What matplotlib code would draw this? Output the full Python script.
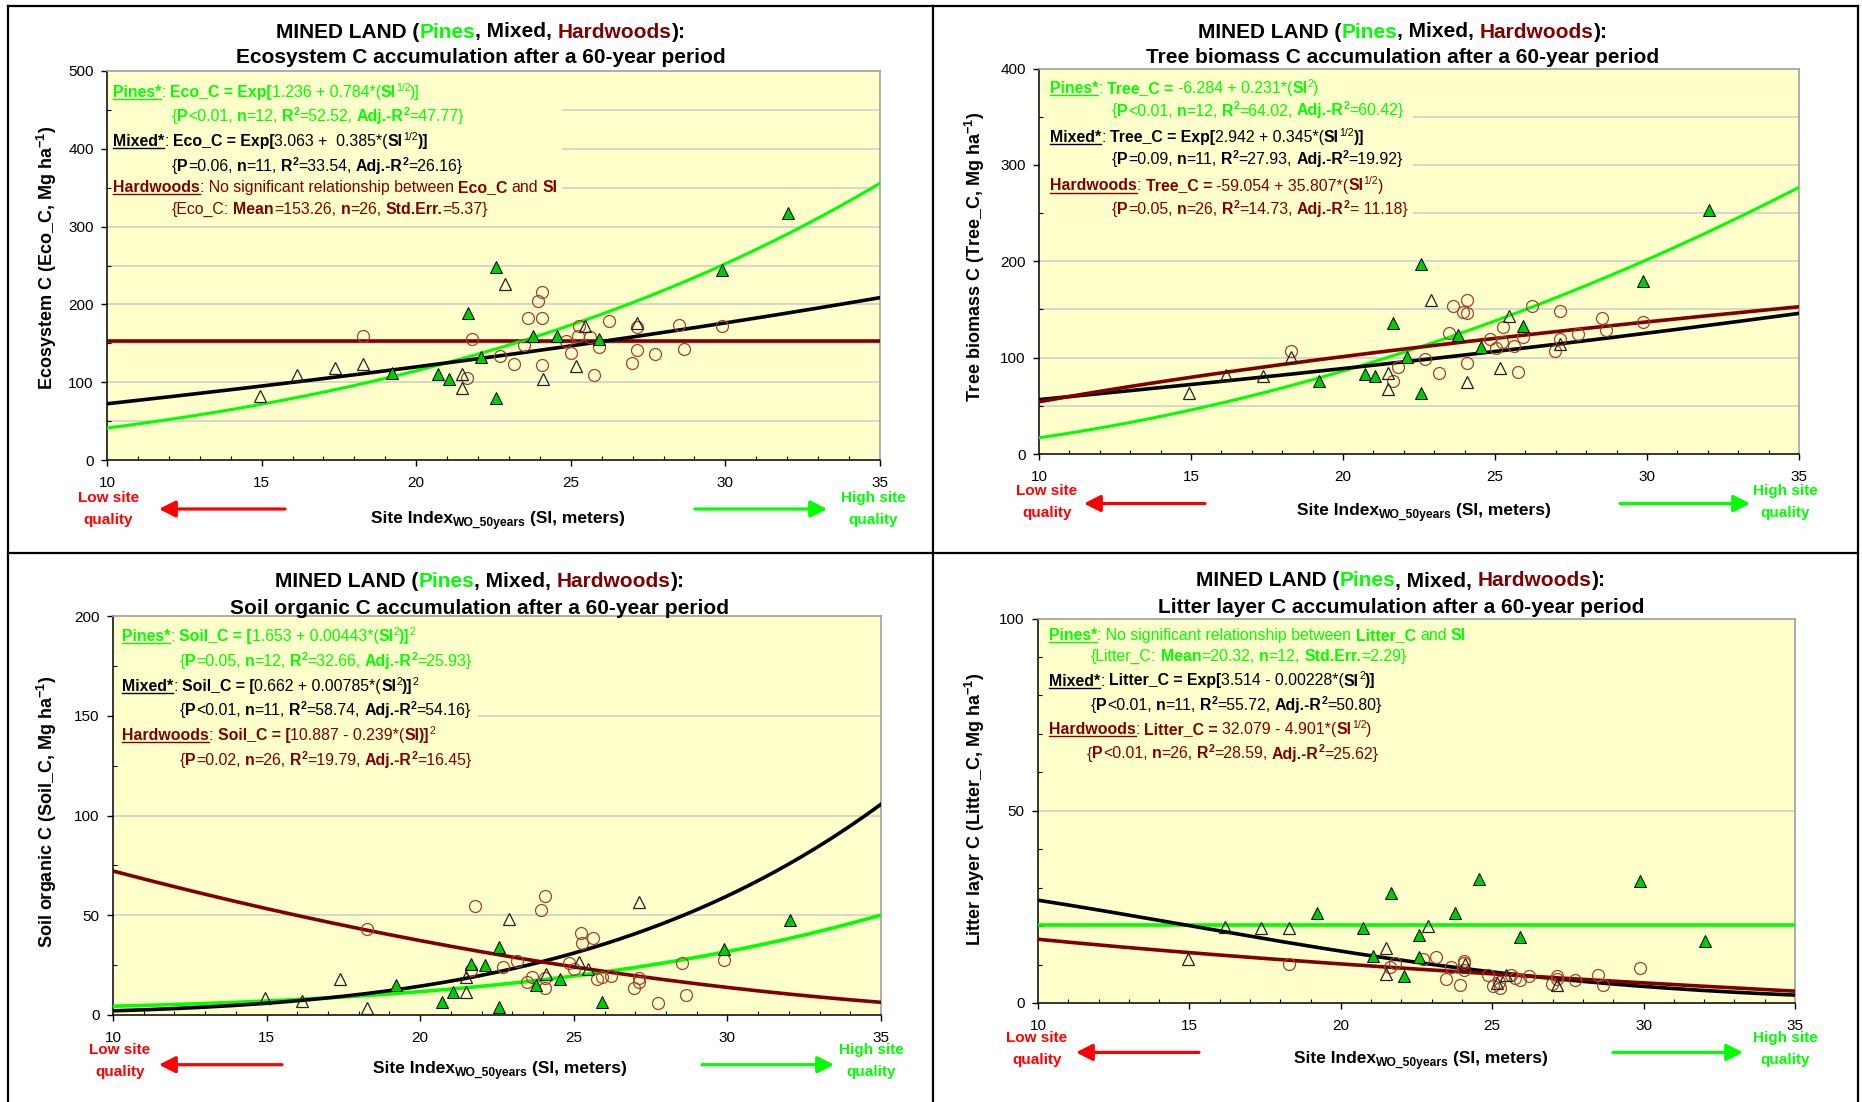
import numpy as np
import matplotlib
matplotlib.use("Agg")
import matplotlib.pyplot as plt
from matplotlib.lines import Line2D
from matplotlib.patches import Rectangle
from matplotlib.ticker import MultipleLocator

plt.rcParams['font.family'] = ['Liberation Sans', 'DejaVu Sans']
plt.rcParams['mathtext.fontset'] = 'custom'
plt.rcParams['mathtext.rm'] = 'Liberation Sans'
plt.rcParams['mathtext.bf'] = 'Liberation Sans:bold'
plt.rcParams['mathtext.it'] = 'Liberation Sans:italic'

# ---------------- data ----------------
pine_si = [19.21, 20.72, 21.06, 21.66, 22.10, 22.57, 22.57, 23.78, 24.55, 25.92, 29.88, 32.04]
pine_eco = [112, 110, 104.5, 188.5, 132.8, 247.6, 79.3, 159.8, 159.8, 156, 244, 317]
pine_tree = [75.5, 83.4, 80.7, 135.8, 101.1, 197.4, 63.7, 123, 110.8, 132.6, 180, 252.8]
pine_soil = [15.0, 6.7, 11.7, 25.6, 25.1, 34.2, 4.2, 15.0, 17.9, 6.7, 33.1, 47.6]
pine_litter = [23.3, 19.6, 12.3, 28.5, 7.0, 17.7, 11.9, 23.5, 32.2, 17.2, 31.6, 16.2]

mixed_si = [14.94, 16.16, 17.38, 18.28, 21.48, 21.48, 22.88, 24.09, 25.17, 25.46, 27.13]
mixed_eco = [82.7, 108.8, 117.8, 123.4, 110.5, 93, 226, 104, 120.8, 172.7, 175.7]
mixed_tree = [63, 81.7, 80.7, 101.1, 84.5, 67.5, 159.3, 74.5, 89.7, 143, 114]
mixed_soil = [8.7, 7.0, 18.0, 3.3, 11.7, 19.2, 48.1, 20.5, 26.7, 23.0, 56.5]
mixed_litter = [11.4, 19.8, 19.4, 19.6, 14.2, 7.5, 20.0, 10.1, 5.1, 7.3, 4.7]

hard_si = [18.28, 21.80, 21.64, 22.71, 23.16, 23.48, 23.63, 23.94, 24.07, 24.07, 24.07, 24.85, 25.02,
           25.27, 25.24, 25.61, 25.91, 25.76, 26.22, 27.13, 27.13, 26.97, 27.73, 28.51, 28.66, 29.88]
hard_eco = [159.8, 155.5, 105, 133.7, 123, 147.4, 182, 205, 216, 183, 122, 153, 137,
            172.6, 160, 158.5, 145.7, 108.8, 178.7, 170.5, 141.4, 124.7, 136, 173.5, 142.7, 172]
hard_tree = [107.3, 90.7, 75.5, 98.7, 83.8, 126, 154, 147, 146.5, 159.3, 94.9, 119.5, 110.1,
             131.6, 116, 112.5, 121.9, 85.2, 153.4, 147.9, 119.5, 107, 124.7, 141, 129.1, 136.8]
hard_soil = [42.9, 54.8, 22.6, 24.2, 27.2, 16.7, 19.2, 52.6, 59.8, 13.4, 18.4, 25.9, 23.0,
             35.9, 41.3, 38.4, 19.2, 18.0, 19.5, 16.7, 18.4, 13.4, 6.2, 26.2, 9.9, 27.6]
hard_litter = [10.1, 10.5, 9.4, 11.4, 12.0, 6.2, 9.3, 4.7, 10.3, 11.0, 8.5, 7.3, 4.5,
               3.8, 5.5, 7.3, 6.0, 6.5, 7.0, 6.2, 7.0, 4.9, 6.0, 7.3, 4.7, 9.0]

# fitted-equation coefficients printed on the chart
eco_pine_coef = [1.236, 0.784]      # Exp[a + b*SI^0.5]
eco_mixed_coef = [3.063, 0.385]     # Exp[a + b*SI^0.5]
eco_hard_mean = 153.26
tree_pine_coef = [-6.284, 0.231]    # a + b*SI^2
tree_mixed_coef = [2.942, 0.345]    # Exp[a + b*SI^0.5]
tree_hard_coef = [-59.054, 35.807]  # a + b*SI^0.5
soil_pine_coef = [1.653, 0.00443]   # [a + b*SI^2]^2
soil_mixed_coef = [0.662, 0.00785]  # [a + b*SI^2]^2
soil_hard_coef = [10.887, -0.239]   # [a + b*SI]^2
litter_pine_mean = 20.32
litter_mixed_coef = [3.514, -0.00228]  # Exp[a + b*SI^2]
litter_hard_coef = [32.079, -4.901]    # a + b*SI^0.5

x_ticks = [10, 15, 20, 25, 30, 35]

# ---------------- styling ----------------
GREEN = '#00FF00'
PINE_FILL = '#00CC00'
DRED = '#800000'
CIRC = '#A3402F'
BG = '#FFFFCC'
GRID = '#CCCCCC'
RED = '#FF0000'
EQ = 11.4

W, H = 1862, 1102
fig = plt.figure(figsize=(W / 100, H / 100), dpi=100)
fig.patch.set_facecolor('white')
renderer = fig.canvas.get_renderer()
PX = 100 / 72.0


def fx(x):
    return x / W


def fy(y):
    return 1 - y / H


_cache = {}


def ink_w(s, size, weight):
    key = (s, size, weight)
    if key not in _cache:
        t = fig.text(0, 0, s, fontsize=size, fontweight=weight)
        _cache[key] = t.get_window_extent(renderer).width
        t.remove()
    return _cache[key]


def adv(s, size, weight):
    if s == '':
        return 0.0
    return ink_w('H' + s + 'H', size, weight) - ink_w('HH', size, weight)


def rich(x0, y0, segs, size, color='black', ha='left', sup_scale=0.66, sub_scale=0.7):
    items = []
    x = 0.0
    for seg in segs:
        s, st = seg[0], seg[1]
        col = seg[2] if len(seg) > 2 else color
        sz = size
        if '^' in st:
            sz = size * sup_scale
        elif '_' in st:
            sz = size * sub_scale
        wt = 'bold' if 'b' in st else 'normal'
        core = s.strip(' ')
        lead = s[:len(s) - len(s.lstrip(' '))]
        lx = adv(lead, sz, wt)
        cw = adv(core, sz, wt)
        items.append((core, x + lx, cw, sz, wt, st, col))
        x += adv(s, sz, wt)
    if ha == 'center':
        x0 = x0 - x / 2
    for core, xx, cw, sz, wt, st, col in items:
        if not core:
            continue
        dy = 0
        if '^' in st:
            dy = -0.40 * size * PX
        elif '_' in st:
            dy = 0.18 * size * PX
        fig.text(fx(x0 + xx), fy(y0 + dy), core, fontsize=sz, fontweight=wt, color=col,
                 va='baseline', ha='left')
        if 'u' in st:
            yy = y0 + 0.13 * size * PX
            fig.add_artist(Line2D([fx(x0 + xx), fx(x0 + xx + cw)], [fy(yy), fy(yy)],
                                  color=col, lw=1.0, transform=fig.transFigure))


def stats(p, n, r2, adj):
    return [('{', ''), ('P', 'b'), (p + ', ', ''), ('n', 'b'), ('=' + n + ', ', ''),
            ('R', 'b'), ('2', '^b'), ('=' + r2 + ', ', ''), ('Adj.-R', 'b'), ('2', '^b'),
            ('=' + adj + '}', '')]


def make_axes(rect, ymax, ymaj, ymin_step, grid_vals, cover):
    l, t, r, b = rect
    ax = fig.add_axes([fx(l), fy(b), (r - l) / W, (b - t) / H])
    ax.set_facecolor(BG)
    ax.set_xlim(10, 35)
    ax.set_ylim(0, ymax)
    ax.set_xticks(x_ticks)
    ax.xaxis.set_minor_locator(MultipleLocator(1))
    ax.yaxis.set_major_locator(MultipleLocator(ymaj))
    ax.yaxis.set_minor_locator(MultipleLocator(ymin_step))
    ax.tick_params(which='major', direction='out', length=4.5, width=1, labelsize=11,
                   colors='black')
    ax.tick_params(axis='x', which='major', pad=7)
    ax.tick_params(axis='y', which='major', pad=5)
    ax.tick_params(which='minor', direction='in', length=3, width=0.8)
    for sp in ['left', 'bottom']:
        ax.spines[sp].set_color('black')
        ax.spines[sp].set_linewidth(1.1)
    for sp in ['top', 'right']:
        ax.spines[sp].set_color('#A0A0A0')
        ax.spines[sp].set_linewidth(1.2)
    for g in grid_vals:
        ax.axhline(g, color=GRID, lw=1.1, zorder=0.5)
    # text box covering the gridlines
    cx0, cy0, cx1, cy1 = cover
    dx0 = 10 + (cx0 - l) / (r - l) * 25
    dx1 = 10 + (cx1 - l) / (r - l) * 25
    dy0 = ymax * (b - cy1) / (b - t)
    dy1 = ymax * (b - cy0) / (b - t)
    ax.add_patch(Rectangle((dx0, dy0), dx1 - dx0, dy1 - dy0, facecolor=BG, edgecolor='none',
                           zorder=0.8))
    return ax


def scatter(ax, pv, mv, hv):
    ax.plot(hard_si, hv, ls='none', marker='o', ms=8.6, mfc='none', mec=CIRC, mew=0.9, zorder=5)
    ax.plot(mixed_si, mv, ls='none', marker='^', ms=9, mfc='none', mec='#222222', mew=0.9,
            zorder=6)
    ax.plot(pine_si, pv, ls='none', marker='^', ms=9, mfc=PINE_FILL, mec='black', mew=0.7,
            zorder=7)


def decor(cx, ty1, ty2, title2, ylab, ylx, yly, xl_x, xl_y,
          low_x, low_y, red_tail, red_head, arrow_y, grn_tail, grn_head, high_x):
    rich(cx, ty1, [('MINED LAND (', 'b'), ('Pines', 'b', GREEN), (', Mixed, ', 'b'),
                   ('Hardwoods', 'b', DRED), ('):', 'b')], 15, ha='center')
    rich(cx, ty2, [(title2, 'b')], 15, ha='center')
    fig.text(fx(ylx), fy(yly), ylab, rotation=90, fontsize=13, fontweight='bold',
             ha='center', va='center')
    rich(xl_x, xl_y, [('Site Index', 'b'), ('WO_50years', 'b_'), (' (SI, meters)', 'b')], 12.5,
         ha='center')
    fig.text(fx(low_x), fy(low_y), 'Low site', fontsize=11, fontweight='bold', color=RED,
             ha='center', va='center')
    fig.text(fx(low_x), fy(low_y + 22), 'quality', fontsize=11, fontweight='bold', color=RED,
             ha='center', va='center')
    fig.text(fx(high_x), fy(low_y), 'High site', fontsize=11, fontweight='bold', color=GREEN,
             ha='center', va='center')
    fig.text(fx(high_x), fy(low_y + 22), 'quality', fontsize=11, fontweight='bold', color=GREEN,
             ha='center', va='center')
    for tail, head, col in [(red_tail, red_head, RED), (grn_tail, grn_head, GREEN)]:
        fig.add_artist(matplotlib.text.Annotation(
            '', xy=(head, H - arrow_y), xytext=(tail, H - arrow_y),
            xycoords='figure pixels', textcoords='figure pixels',
            arrowprops=dict(arrowstyle='-|>,head_length=0.55,head_width=0.28', color=col,
                            lw=2.3, shrinkA=0, shrinkB=0, mutation_scale=18)))


xs = np.linspace(10, 35, 300)

# ---------------- Panel 1: Ecosystem C ----------------
ax1 = make_axes((107, 71, 880, 460), 500, 100, 50, list(range(50, 500, 50)),
                (108, 73, 562, 219))
ax1.plot(xs, np.exp(eco_pine_coef[0] + eco_pine_coef[1] * np.sqrt(xs)), color=GREEN, lw=2.2,
         zorder=3)
ax1.plot(xs, np.exp(eco_mixed_coef[0] + eco_mixed_coef[1] * np.sqrt(xs)), color='black',
         lw=2.6, zorder=3)
ax1.plot([10, 35], [eco_hard_mean, eco_hard_mean], color=DRED, lw=2.6, zorder=2.9)
scatter(ax1, pine_eco, mixed_eco, hard_eco)
rich(113, 97, [('Pines*', 'bu'), (': ', ''), ('Eco_C = Exp[', 'b'), ('1.236 + 0.784*(', ''),
               ('SI', 'b'), ('1/2', '^'), (')]', '')], EQ, GREEN)
rich(172, 121, stats('<0.01', '12', '52.52', '47.77'), EQ, GREEN)
rich(113, 146, [('Mixed*', 'bu'), (': ', ''), ('Eco_C = Exp[', 'b'), ('3.063 +  0.385*(', ''),
                ('SI', 'b'), ('1/2', '^'), (')]', 'b')], EQ, 'black')
rich(172, 171, stats('=0.06', '11', '33.54', '26.16'), EQ, 'black')
rich(113, 192, [('Hardwoods', 'bu'), (': No significant relationship between ', ''),
                ('Eco_C', 'b'), (' and ', ''), ('SI', 'b')], EQ, DRED)
rich(172, 214, [('{Eco_C: ', ''), ('Mean', 'b'), ('=153.26, ', ''), ('n', 'b'), ('=26, ', ''),
                ('Std.Err.', 'b'), ('=5.37}', '')], EQ, DRED)
decor(481, 37.5, 63, 'Ecosystem C accumulation after a 60-year period',
      r'Ecosystem C (Eco_C, Mg ha$^{\mathbf{-1}}$)', 47, 258, 498, 523,
      108.5, 498, 285, 159, 509, 695, 827, 873)

# ---------------- Panel 2: Tree biomass C ----------------
ax2 = make_axes((1039, 68.5, 1799, 454), 400, 100, 50, list(range(50, 400, 50)),
                (1040, 70, 1413, 222))
ax2.plot(xs, tree_pine_coef[0] + tree_pine_coef[1] * xs ** 2, color=GREEN, lw=2.2, zorder=3)
ax2.plot(xs, np.exp(tree_mixed_coef[0] + tree_mixed_coef[1] * np.sqrt(xs)), color='black',
         lw=2.6, zorder=3)
ax2.plot(xs, tree_hard_coef[0] + tree_hard_coef[1] * np.sqrt(xs), color=DRED, lw=2.6, zorder=3)
scatter(ax2, pine_tree, mixed_tree, hard_tree)
rich(1050, 93, [('Pines*', 'bu'), (': ', ''), ('Tree_C = ', 'b'), ('-6.284 + 0.231*(', ''),
                ('SI', 'b'), ('2', '^'), (')', '')], EQ, GREEN)
rich(1112, 115.5, stats('<0.01', '12', '64.02', '60.42'), EQ, GREEN)
rich(1050, 142, [('Mixed*', 'bu'), (': ', ''), ('Tree_C = Exp[', 'b'), ('2.942 + 0.345*(', ''),
                 ('SI', 'b'), ('1/2', '^'), (')]', 'b')], EQ, 'black')
rich(1112, 164, stats('=0.09', '11', '27.93', '19.92'), EQ, 'black')
rich(1050, 190.5, [('Hardwoods', 'bu'), (': ', ''), ('Tree_C = ', 'b'),
                   ('-59.054 + 35.807*(', ''), ('SI', 'b'), ('1/2', '^'), (')', '')], EQ, DRED)
rich(1112, 214, stats('=0.05', '26', '14.73', ' 11.18'), EQ, DRED)
decor(1403, 37.5, 63, 'Tree biomass C accumulation after a 60-year period',
      r'Tree biomass C (Tree_C, Mg ha$^{\mathbf{-1}}$)', 975, 257, 1424, 515,
      1047, 491, 1205, 1084, 503.5, 1620, 1750, 1785)

# ---------------- Panel 3: Soil organic C ----------------
ax3 = make_axes((113, 616, 881, 1015), 200, 50, 25, [50, 100, 150], (114, 618, 478, 772))
ax3.plot(xs, (soil_pine_coef[0] + soil_pine_coef[1] * xs ** 2) ** 2, color=GREEN, lw=2.6,
         zorder=3)
ax3.plot(xs, (soil_mixed_coef[0] + soil_mixed_coef[1] * xs ** 2) ** 2, color='black', lw=2.6,
         zorder=3)
ax3.plot(xs, (soil_hard_coef[0] + soil_hard_coef[1] * xs) ** 2, color=DRED, lw=2.6, zorder=3)
scatter(ax3, pine_soil, mixed_soil, hard_soil)
rich(122, 641, [('Pines*', 'bu'), (': ', ''), ('Soil_C = [', 'b'), ('1.653 + 0.00443*(', ''),
                ('SI', 'b'), ('2', '^'), (')]', 'b'), ('2', '^')], EQ, GREEN)
rich(180, 666, stats('=0.05', '12', '32.66', '25.93'), EQ, GREEN)
rich(122, 691, [('Mixed*', 'bu'), (': ', ''), ('Soil_C = [', 'b'), ('0.662 + 0.00785*(', ''),
                ('SI', 'b'), ('2', '^'), (')]', 'b'), ('2', '^')], EQ, 'black')
rich(180, 715, stats('<0.01', '11', '58.74', '54.16'), EQ, 'black')
rich(122, 740, [('Hardwoods', 'bu'), (': ', ''), ('Soil_C = [', 'b'), ('10.887 - 0.239*(', ''),
                ('SI', 'b'), (')]', 'b'), ('2', '^')], EQ, DRED)
rich(180, 765, stats('=0.02', '26', '19.79', '16.45'), EQ, DRED)
decor(480, 587, 613.5, 'Soil organic C accumulation after a 60-year period',
      r'Soil organic C (Soil_C, Mg ha$^{\mathbf{-1}}$)', 47, 812, 500, 1073,
      120, 1050, 282, 159, 1064.7, 702, 834, 871)

# ---------------- Panel 4: Litter layer C ----------------
ax4 = make_axes((1038, 618.5, 1795, 1003), 100, 50, 10, [50], (1039, 620, 1350, 766))
ax4.plot([10, 35], [litter_pine_mean, litter_pine_mean], color=GREEN, lw=2.6, zorder=3)
ax4.plot(xs, np.exp(litter_mixed_coef[0] + litter_mixed_coef[1] * xs ** 2), color='black',
         lw=2.6, zorder=3)
ax4.plot(xs, litter_hard_coef[0] + litter_hard_coef[1] * np.sqrt(xs), color=DRED, lw=2.6,
         zorder=3)
scatter(ax4, pine_litter, mixed_litter, hard_litter)
rich(1049, 640, [('Pines*', 'bu'), (': No significant relationship between ', ''),
                 ('Litter_C', 'b'), (' and ', ''), ('SI', 'b')], EQ, GREEN)
rich(1091, 661, [('{Litter_C: ', ''), ('Mean', 'b'), ('=20.32, ', ''), ('n', 'b'), ('=12, ', ''),
                 ('Std.Err.', 'b'), ('=2.29}', '')], EQ, GREEN)
rich(1049, 685.5, [('Mixed*', 'bu'), (': ', ''), ('Litter_C = Exp[', 'b'),
                   ('3.514 - 0.00228*(', ''), ('SI', 'b'), ('2', '^'), (')]', 'b')], EQ, 'black')
rich(1091, 710, stats('<0.01', '11', '55.72', '50.80'), EQ, 'black')
rich(1049, 734, [('Hardwoods', 'bu'), (': ', ''), ('Litter_C = ', 'b'), ('32.079 - 4.901*(', ''),
                 ('SI', 'b'), ('1/2', '^'), (')', '')], EQ, DRED)
rich(1087, 758.5, stats('<0.01', '26', '28.59', '25.62'), EQ, DRED)
decor(1401, 586.5, 613, 'Litter layer C accumulation after a 60-year period',
      r'Litter layer C (Litter_C, Mg ha$^{\mathbf{-1}}$)', 975, 809, 1421, 1063,
      1037, 1038, 1199, 1076, 1052.4, 1613, 1743, 1785)

# ---------------- panel frames ----------------
for xx, yy in [((8, 1858), (6, 6)), ((8, 8), (6, 1102)), ((1858, 1858), (6, 1102)),
               ((933, 933), (6, 1102)), ((8, 1858), (553, 553))]:
    fig.add_artist(Line2D([fx(xx[0]), fx(xx[1])], [fy(yy[0]), fy(yy[1])], color='black',
                          lw=1.6, transform=fig.transFigure))

fig.savefig('out.png', dpi=100, facecolor='white')
